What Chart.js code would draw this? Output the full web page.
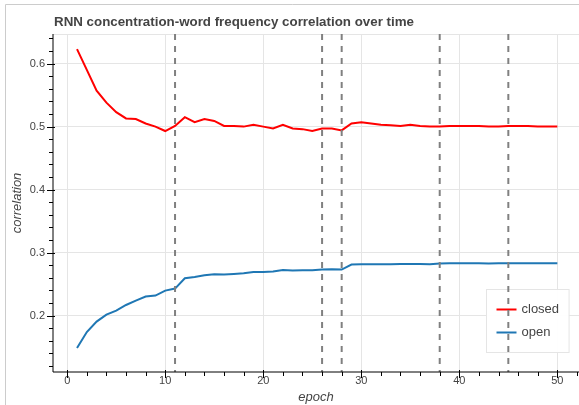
<!DOCTYPE html>
<html><head><meta charset="utf-8">
<script src="https://cdn.jsdelivr.net/npm/chart.js@4/dist/chart.umd.min.js"></script>
<style>html,body{margin:0;padding:0;background:#fff;overflow:hidden}</style>
</head><body>
<canvas id="c" width="579" height="405"></canvas>
<script>
const titleText = 'RNN concentration-word frequency correlation over time';
const xAxisTitle = 'epoch';
const yAxisTitle = 'correlation';
const seriesNames = ['closed', 'open'];
const seriesColors = ['#ff0000', '#1f77b4'];
const epochs = [1,2,3,4,5,6,7,8,9,10,11,12,13,14,15,16,17,18,19,20,21,22,23,24,25,26,27,28,29,30,31,32,33,34,35,36,37,38,39,40,41,42,43,44,45,46,47,48,49,50];
const closedValues = [0.623,0.590,0.557,0.538,0.523,0.513,0.512,0.505,0.500,0.493,
  0.501,0.515,0.507,0.512,0.509,0.501,0.501,0.500,0.503,0.500,
  0.497,0.503,0.497,0.496,0.493,0.497,0.497,0.494,0.505,0.507,
  0.505,0.503,0.502,0.501,0.503,0.501,0.500,0.500,0.501,0.501,
  0.501,0.501,0.500,0.500,0.501,0.501,0.501,0.500,0.500,0.500];
const openValues = [0.1485,0.174,0.1905,0.2016,0.208,0.2169,0.2238,0.2302,0.2318,0.2397,
  0.2429,0.2593,0.2614,0.264,0.2657,0.2652,0.2661,0.2672,0.2693,0.2693,
  0.270,0.2725,0.2715,0.272,0.272,0.2731,0.2736,0.2731,0.281,0.2816,
  0.2816,0.2816,0.2816,0.2818,0.282,0.282,0.2815,0.2828,0.283,0.283,
  0.283,0.283,0.2828,0.283,0.2832,0.2832,0.2832,0.283,0.2832,0.2833];
const markerEpochs = [11, 26, 28, 38, 45];
const xTickValues = [0, 10, 20, 30, 40, 50];
const yTickValues = [0.2, 0.3, 0.4, 0.5, 0.6];
const xMinorTickValues = [0,2,4,6,8,10,12,14,16,18,20,22,24,26,28,30,32,34,36,38,40,42,44,46,48,50,52];
const yMinorTickValues = [0.12,0.14,0.16,0.18,0.2,0.22,0.24,0.26,0.28,0.3,0.32,0.34,0.36,0.38,0.4,0.42,0.44,0.46,0.48,0.5,0.52,0.54,0.56,0.58,0.6,0.62,0.64];

const FONT = '"Liberation Sans", Arial, Helvetica, sans-serif';
const TXT = '#444';

const deco = {
  id: 'deco',
  beforeDraw(chart) {
    const ctx = chart.ctx;
    ctx.save();
    ctx.fillStyle = '#fff';
    ctx.fillRect(0, 0, chart.width, chart.height);
    ctx.strokeStyle = '#cccccc';
    ctx.lineWidth = 1;
    ctx.beginPath();
    ctx.moveTo(5.5, chart.height);
    ctx.lineTo(5.5, 4.5);
    ctx.lineTo(chart.width, 4.5);
    ctx.stroke();
    ctx.fillStyle = TXT;
    ctx.font = 'bold 13.33px ' + FONT;
    ctx.textBaseline = 'middle';
    ctx.textAlign = 'left';
    ctx.fillText(titleText, 54, 22);
    ctx.restore();
  },
  afterDatasetsDraw(chart) {
    const ctx = chart.ctx;
    const a = chart.chartArea;
    const xs = chart.scales.x, ys = chart.scales.y;
    ctx.save();
    ctx.strokeStyle = '#e5e5e5';
    ctx.lineWidth = 1;
    ctx.beginPath();
    ctx.moveTo(a.left, a.top + 0.5);
    ctx.lineTo(a.right, a.top + 0.5);
    ctx.stroke();

    ctx.font = '13px ' + FONT;
    let maxW = 0;
    seriesNames.forEach(n => { maxW = Math.max(maxW, ctx.measureText(n).width); });
    const lx = 486.5, ly = 289.5;
    const lw = 10 + 20 + 5 + maxW + 10;
    const lh = 10 + 20 * seriesNames.length + 3 * (seriesNames.length - 1) + 10;
    ctx.fillStyle = 'rgba(255,255,255,0.95)';
    ctx.fillRect(lx, ly, lw, lh);
    ctx.strokeStyle = '#e5e5e5';
    ctx.strokeRect(lx, ly, lw, lh);
    chart.data.datasets.forEach((ds, i) => {
      const cy = ly + 10 + 10 + i * 23;
      ctx.strokeStyle = ds.borderColor;
      ctx.lineWidth = 2;
      ctx.beginPath();
      ctx.moveTo(lx + 10, cy);
      ctx.lineTo(lx + 30, cy);
      ctx.stroke();
      ctx.fillStyle = TXT;
      ctx.textBaseline = 'middle';
      ctx.textAlign = 'left';
      ctx.fillText(ds.label, lx + 35, cy);
    });

    ctx.strokeStyle = '#808080';
    ctx.lineWidth = 2;
    ctx.setLineDash([6, 6]);
    markerEpochs.forEach(e => {
      const px = xs.getPixelForValue(e);
      ctx.beginPath();
      ctx.moveTo(px, a.top);
      ctx.lineTo(px, a.bottom);
      ctx.stroke();
    });
    ctx.setLineDash([]);

    ctx.strokeStyle = '#000';
    ctx.lineWidth = 1;
    ctx.beginPath();
    ctx.moveTo(a.left, a.top);
    ctx.lineTo(a.left, a.bottom);
    ctx.moveTo(a.left, a.bottom);
    ctx.lineTo(a.right, a.bottom);
    ctx.stroke();
    ctx.beginPath();
    yMinorTickValues.forEach(v => {
      const py = Math.round(ys.getPixelForValue(v)) + 0.5;
      ctx.moveTo(a.left - 4, py); ctx.lineTo(a.left, py);
    });
    yTickValues.forEach(v => {
      const py = Math.round(ys.getPixelForValue(v)) + 0.5;
      ctx.moveTo(a.left - 6, py); ctx.lineTo(a.left + 2, py);
    });
    xMinorTickValues.forEach(v => {
      const px = Math.round(xs.getPixelForValue(v)) + 0.5;
      ctx.moveTo(px, a.bottom); ctx.lineTo(px, a.bottom + 4);
    });
    xTickValues.forEach(v => {
      const px = Math.round(xs.getPixelForValue(v)) + 0.5;
      ctx.moveTo(px, a.bottom - 2); ctx.lineTo(px, a.bottom + 6);
    });
    ctx.stroke();
    ctx.restore();
  }
};

new Chart(document.getElementById('c'), {
  type: 'line',
  data: {
    datasets: [
      { label: seriesNames[0], data: epochs.map((e, i) => ({x: e, y: closedValues[i]})),
        borderColor: seriesColors[0], borderWidth: 2, pointRadius: 0, tension: 0, fill: false },
      { label: seriesNames[1], data: epochs.map((e, i) => ({x: e, y: openValues[i]})),
        borderColor: seriesColors[1], borderWidth: 2, pointRadius: 0, tension: 0, fill: false }
    ]
  },
  options: {
    responsive: false,
    animation: false,
    devicePixelRatio: 1,
    layout: { padding: { top: 34, right: 0, bottom: 0, left: 0 } },
    plugins: { legend: { display: false }, title: { display: false }, tooltip: { enabled: false } },
    scales: {
      x: {
        type: 'linear', min: -1.45, max: 52.21,
        afterBuildTicks: s => { s.ticks = xTickValues.map(v => ({ value: v })); },
        afterFit: s => { s.height = 33; },
        grid: { color: '#e5e5e5', lineWidth: 1, drawTicks: false },
        border: { display: false },
        ticks: { font: { family: FONT, size: 11 }, color: TXT, padding: 2, maxRotation: 0, autoSkip: false,
                 callback: v => String(v) },
        title: { display: true, text: xAxisTitle, color: TXT,
                 font: { family: FONT, size: 13, style: 'italic' }, padding: { top: 0, bottom: 0 } }
      },
      y: {
        type: 'linear', min: 0.1105, max: 0.647,
        afterBuildTicks: s => { s.ticks = yTickValues.map(v => ({ value: v })); },
        afterFit: s => { s.width = 53; },
        grid: { color: '#e5e5e5', lineWidth: 1, drawTicks: false },
        border: { display: false },
        ticks: { font: { family: FONT, size: 11 }, color: TXT, padding: 8, autoSkip: false,
                 callback: v => v.toFixed(1) },
        title: { display: true, text: yAxisTitle, color: TXT,
                 font: { family: FONT, size: 13, style: 'italic' }, padding: { top: 10, bottom: 0 } }
      }
    }
  },
  plugins: [deco]
});
</script>
</body></html>
